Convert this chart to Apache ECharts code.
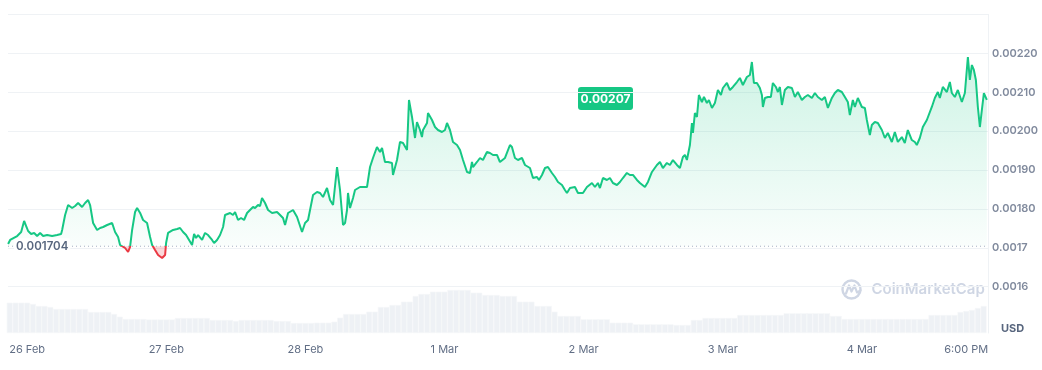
<!DOCTYPE html>
<html>
<head>
<meta charset="utf-8">
<script src="https://cdn.jsdelivr.net/npm/echarts@6.0.0/dist/echarts.min.js"></script>
<style>
html,body{margin:0;padding:0;background:#ffffff;}
#chart{width:1042px;height:370px;}
</style>
</head>
<body>
<div id="chart"></div>
<script>
// ---- DATA ----
// time in hours since 26 Feb 00:00, price in USD
const pricePoints = [
[-3.28,0.0017098],[-2.93,0.0017201],[-2.59,0.0017252],[-1.72,0.0017303],[-1.03,0.0017406],[-0.52,0.0017689],[-0.17,0.0017560],[0.17,0.0017432],[0.69,0.0017355],[1.21,0.0017381],[1.72,0.0017303],[2.24,0.0017381],[2.76,0.0017303],[3.45,0.0017329],[4.31,0.0017303],[5.17,0.0017329],[5.86,0.0017355],[6.04,0.0017458],[6.55,0.0017843],[7.07,0.0018100],[7.76,0.0018023],[8.28,0.0018075],[8.79,0.0018152],[9.48,0.0018049],[10.00,0.0018152],[10.52,0.0018229],[10.86,0.0018100],[11.38,0.0017638],[12.07,0.0017458],[12.59,0.0017509],[13.11,0.0017535],[13.80,0.0017586],[14.66,0.0017638],[15.17,0.0017406],[15.69,0.0017278],[16.03,0.0017072],[16.90,0.0016995],[17.42,0.0016892],[17.76,0.0017021],[18.11,0.0017458],[18.62,0.0017920],[18.97,0.0018023],[19.49,0.0017895],[20.00,0.0017715],[20.69,0.0017638],[21.21,0.0017278],[21.56,0.0017072],[22.07,0.0016943],[22.59,0.0016815],[23.28,0.0016738],[23.80,0.0016815],[23.97,0.0017123],[24.31,0.0017381],[25.18,0.0017458],[25.87,0.0017483],[26.38,0.0017509],
[26.90,0.0017406],[27.42,0.0017329],[27.76,0.0017278],[28.45,0.0017072],[28.80,0.0017355],[29.14,0.0017252],[29.49,0.0017329],[30.18,0.0017201],[30.69,0.0017381],[31.21,0.0017329],[31.90,0.0017201],[32.25,0.0017123],[32.76,0.0017201],[33.28,0.0017329],[33.80,0.0017535],[34.14,0.0017843],[35.01,0.0017895],[35.52,0.0017843],[35.87,0.0017920],[36.38,0.0017715],[36.90,0.0017766],[37.42,0.0017715],[37.94,0.0017895],[38.45,0.0017972],[38.97,0.0018049],[39.32,0.0018023],[39.83,0.0018100],[40.18,0.0018075],[40.52,0.0018280],[41.04,0.0018152],[41.56,0.0017972],[42.25,0.0017895],[43.11,0.0017920],[43.63,0.0017843],[44.14,0.0017766],[44.49,0.0017586],[45.01,0.0017895],[45.87,0.0017972],[46.56,0.0017792],[47.42,0.0017406],[47.94,0.0017638],[48.46,0.0017715],[49.32,0.0018357],[50.01,0.0018435],[50.53,0.0018409],[51.04,0.0018306],[51.73,0.0018537],[52.25,0.0018229],[52.77,0.0018100],[53.46,0.0019077],[53.97,0.0018486],[54.49,0.0017586],[54.84,0.0017638],[55.18,0.0017972],[55.35,0.0018409],[55.70,0.0018023],[56.22,0.0018280],[56.56,0.0018486],[57.42,0.0018563],[58.63,0.0018563],[59.15,0.0019077],[59.66,0.0019309],[60.35,0.0019591],[60.87,0.0019463],[61.22,0.0019566],[61.73,0.0019206],[62.25,0.0019206],[62.94,0.0019180],[63.11,0.0018872],[63.80,0.0019257],[64.32,0.0019720],[64.84,0.0019694],[65.53,0.0019514],[65.87,0.0020800],[66.39,0.0020363],[66.56,0.0020337],[66.91,0.0019823],[67.25,0.0020234],[67.77,0.0020028],[68.11,0.0019848],[68.29,0.0020028],[68.98,0.0020208],[69.15,0.0020465],[69.84,0.0020285],[70.36,0.0020105],[70.87,0.0020028],[71.56,0.0019977],[72.08,0.0020028],[72.43,0.0020208],[72.94,0.0020028],[73.46,0.0019720],[74.15,0.0019643],[74.67,0.0019514],[75.19,0.0019257],[75.88,0.0018949],[76.39,0.0018923],[76.74,0.0019206],[76.91,0.0019077],[77.60,0.0019206],[78.12,0.0019309],[78.63,0.0019257],[79.32,0.0019463],[79.84,0.0019437],[80.36,0.0019386],[81.05,0.0019386],[81.56,0.0019206],
[82.43,0.0019309],[83.29,0.0019643],[83.63,0.0019591],[84.15,0.0019309],[84.67,0.0019257],[85.36,0.0019309],[85.88,0.0019129],[86.74,0.0019051],[87.26,0.0018794],[87.95,0.0018820],[88.29,0.0018743],[88.81,0.0018872],[89.33,0.0019051],[89.84,0.0019077],[90.53,0.0018923],[91.05,0.0018820],[91.57,0.0018692],[92.26,0.0018614],[92.77,0.0018486],[93.12,0.0018409],[93.64,0.0018537],[94.50,0.0018563],[95.02,0.0018409],[95.88,0.0018409],[96.57,0.0018563],[97.43,0.0018666],[97.95,0.0018563],[98.46,0.0018666],[98.81,0.0018537],[99.33,0.0018794],[100.02,0.0018743],[100.53,0.0018794],[101.05,0.0018666],[101.74,0.0018614],[102.26,0.0018692],[102.77,0.0018794],[103.46,0.0018923],[103.98,0.0018872],[104.50,0.0018872],[105.19,0.0018743],[105.71,0.0018666],[106.57,0.0018563],[107.09,0.0018692],[107.78,0.0018949],[108.64,0.0019129],[109.16,0.0019206],[109.67,0.0019051],[110.36,0.0019180],[110.88,0.0019129],[111.40,0.0019257],[112.09,0.0019129],[112.61,0.0019051],[113.12,0.0019334],[113.47,0.0019386],[113.81,0.0019257],[114.33,0.0019643],[114.68,0.0020208],[114.85,0.0019951],[115.19,0.0020465],[115.54,0.0020363],[115.88,0.0020928],[116.40,0.0020748],[116.75,0.0020877],[117.26,0.0020722],[117.61,0.0020800],[118.13,0.0020594],[118.64,0.0020722],[119.16,0.0021057],[119.68,0.0020928],[120.02,0.0021108],[120.71,0.0021237],[121.23,0.0021057],[121.75,0.0021134],[122.44,0.0021262],[122.95,0.0021365],[123.47,0.0021185],[124.16,0.0021391],[124.68,0.0021442],[125.02,0.0021776],[125.37,0.0021237],[125.89,0.0021237],[126.40,0.0021108],[126.75,0.0020928],[126.92,0.0020620],[127.27,0.0020851],[127.78,0.0020877],[128.30,0.0020877],[128.64,0.0021237],[129.16,0.0021134],[129.51,0.0021005],[129.85,0.0021134],[130.20,0.0020671],[130.71,0.0021057],[131.23,0.0021134],[131.92,0.0021108],[132.44,0.0020877],[132.95,0.0021005],[133.64,0.0020800],[134.16,0.0020877],[134.68,0.0020928],[135.37,0.0020851],[135.89,0.0020979],[136.40,0.0020877],[137.09,0.0020800],[137.61,0.0020877],[138.13,0.0020594],[138.82,0.0020851],[139.33,0.0020979],[139.85,0.0021057],[140.54,0.0021005],[141.06,0.0020877],[141.57,0.0020748],[141.92,0.0020414],[142.44,0.0020800],[142.78,0.0020620],[143.30,0.0020851],[143.99,0.0020620],[144.51,0.0020594],[144.85,0.0020285],[145.37,0.0019900],[145.71,0.0020157],[146.23,0.0020234],[146.75,0.0020208],[147.44,0.0020028],[147.96,0.0019823],[148.47,0.0019951],[149.16,0.0019720],[149.68,0.0019977],[150.20,0.0019720],[150.89,0.0019848],[151.40,0.0019694],[151.92,0.0020028],[152.61,0.0019771],[153.13,0.0019720],[153.47,0.0019643],[153.99,0.0019823],[154.51,0.0020105],[155.20,0.0020285],[156.06,0.0020620],[156.58,0.0020851],[157.10,0.0021005],[157.44,0.0020851],[157.96,0.0021134],[158.65,0.0021005],[159.17,0.0021262],[159.51,0.0020979],[160.03,0.0020877],[160.55,0.0021057],[161.24,0.0020748],[161.76,0.0020979],[162.10,0.0021005],[162.28,0.0021905],[162.62,0.0021314],[162.97,0.0021699],[163.31,0.0021571],[163.66,0.0021314],[164.00,0.0020620],[164.35,0.0020105],[164.69,0.0020542],[165.04,0.0020979],[165.55,0.0020800]
];
// 24h volume (relative units), one value per hour starting at hour -3
const volumeStartHour = -3;
const volumes = [
30.3,30.3,30.3,30.3,29,27,27,26,24,24,24,24,24,24,
21,21,21,21,19,16.3,14,14,14,14,
13.5,13.5,13.5,13.5,13.5,15,15,15,15,15,15,
13,13,13,13,12,13,13,13,13,13,13,12,12,12,
10,10,10,10,10.3,10.3,10.3,11.3,15.3,19,19,19,19,
21.3,21.3,26,26,28,28,31.3,31.3,37,39,39,41.3,41.3,41.3,
43,43,43,43,40.3,40.3,38,38,38,37,37,37,
31.3,31.3,31.3,27,27,27,21.3,17,17,17,17,
13.7,13.7,13.7,13.7,13.7,10.3,10.3,10.3,10.3,
8.7,8.7,8.7,8.7,8.7,8.7,8.7,8,8,8,13,13,
15,15,15,15,15,15,18,18,18,18,18,18,18,18,
19.7,19.7,19.7,19.7,19.7,19.7,19.7,19.7,17,17,
14,14,14,14,14,14,14,14,14,14,14,14,14,14,14,
18,18,18,18,18,21,22,23,25,27
];
const xTickHours = [0,24,48,72,96,120,144,162];
const xTickLabels = ['26 Feb','27 Feb','28 Feb','1 Mar','2 Mar','3 Mar','4 Mar','6:00 PM'];
const yTickValues = [0.0016,0.0017,0.0018,0.0019,0.0020,0.0021,0.0022];
const yTickLabels = ['0.0016','0.0017','0.00180','0.00190','0.00200','0.00210','0.00220'];
const openPrice = 0.001704;
const currentPriceLabel = '0.00207';
const currencyLabel = 'USD';
const watermarkText = 'CoinMarketCap';

// ---- CHART ----
const GREEN = '#16c784', RED = '#ea3943';
const xMin = -3.3, xMax = 165.75;
const volumeData = volumes.map((v, i) => [volumeStartHour + i, v]);
const upperArea = pricePoints.map(p => [p[0], Math.max(p[1], openPrice)]);
const lowerArea = pricePoints.map(p => [p[0], Math.min(p[1], openPrice)]);

const W = 1042, H = 370;
const chart = echarts.init(document.getElementById('chart'), null, {renderer: 'canvas', width: W, height: H});
const font = 'Inter, "Noto Sans", sans-serif';
const gridColor = '#eff2f5';

function lineColorFor(baseY) {
  const f = Math.min(Math.max(baseY / H, 0), 1);
  return new echarts.graphic.LinearGradient(0, 0, 0, H, [
    {offset: 0, color: GREEN}, {offset: f, color: GREEN},
    {offset: f, color: RED}, {offset: 1, color: RED}
  ], true);
}

const openLineData = [
  {value: [xMin, openPrice], label: {show: true, position: 'right', distance: 6, formatter: String(openPrice),
    color: '#58667e', fontSize: 11.5, fontWeight: 600, fontFamily: font,
    backgroundColor: 'rgba(255,255,255,0.92)', padding: [2, 2], borderRadius: 2}},
  {value: [xMax, openPrice]}
];

const option = {
  animation: false,
  backgroundColor: '#ffffff',
  grid: [
    {left: 8, right: 54, top: 14.4, bottom: 44.4},
    {left: 8, right: 54, top: 283, bottom: 37}
  ],
  xAxis: [
    {type: 'value', gridIndex: 0, min: xMin, max: xMax,
     axisLine: {show: false}, axisTick: {show: false}, axisLabel: {show: false}, splitLine: {show: false}},
    {type: 'value', gridIndex: 1, min: xMin, max: xMax,
     axisLine: {show: false}, axisTick: {show: false}, splitLine: {show: false},
     axisLabel: {customValues: xTickHours, margin: 11, color: '#616e85', fontSize: 11, fontFamily: font,
       formatter: v => { const i = xTickHours.findIndex(t => Math.abs(t - v) < 1e-6); return i >= 0 ? xTickLabels[i] : ''; }}}
  ],
  yAxis: [
    {type: 'value', gridIndex: 0, position: 'right', min: 0.0015, max: 0.0023, interval: 0.0001,
     axisLine: {show: true, onZero: false, lineStyle: {color: gridColor, width: 1}}, axisTick: {show: false},
     splitLine: {show: true, lineStyle: {color: ['rgba(0,0,0,0)', gridColor, gridColor, gridColor, gridColor, gridColor, gridColor, gridColor, gridColor], width: 1}},
     axisLabel: {margin: 4, color: '#808a9d', fontSize: 11, fontWeight: 600, fontFamily: font,
       formatter: v => { const i = yTickValues.findIndex(t => Math.abs(t - v) < 1e-9); return i >= 0 ? yTickLabels[i] : ''; }}},
    {type: 'value', gridIndex: 1, position: 'right', min: 0, max: 50,
     axisLine: {show: true, onZero: false, lineStyle: {color: gridColor, width: 1}}, axisTick: {show: false},
     axisLabel: {show: false}, splitLine: {show: false}}
  ],
  series: [
    {type: 'bar', xAxisIndex: 1, yAxisIndex: 1, data: volumeData, barWidth: 5.8, silent: true,
     itemStyle: {color: '#eef1f5', borderColor: '#f5f6f9', borderWidth: 0.6}, z: 1},
    {type: 'line', xAxisIndex: 0, yAxisIndex: 0, data: upperArea, symbol: 'none', silent: true,
     lineStyle: {width: 0}, z: 2,
     areaStyle: {origin: openPrice, color: new echarts.graphic.LinearGradient(0, 0, 0, 1, [
       {offset: 0, color: 'rgba(22,199,132,0.30)'}, {offset: 1, color: 'rgba(22,199,132,0.03)'}])}},
    {type: 'line', xAxisIndex: 0, yAxisIndex: 0, data: lowerArea, symbol: 'none', silent: true,
     lineStyle: {width: 0}, z: 2,
     areaStyle: {origin: openPrice, color: 'rgba(234,57,67,0.28)'}},
    {type: 'line', xAxisIndex: 0, yAxisIndex: 0, data: openLineData, silent: true,
     symbol: 'circle', symbolSize: 0, showSymbol: true, clip: false,
     lineStyle: {color: '#a6b0c3', type: [1, 3], width: 1}, itemStyle: {color: 'rgba(0,0,0,0)'}, z: 3},
    {id: 'price', type: 'line', xAxisIndex: 0, yAxisIndex: 0, data: pricePoints, symbol: 'none', silent: true,
     lineStyle: {width: 2, color: GREEN}, z: 4}
  ],
  graphic: [
    {type: 'group', left: 578, top: 87, z: 10, children: [
      {type: 'rect', shape: {x: 0, y: 0, width: 55, height: 23, r: 3}, style: {fill: GREEN}},
      {type: 'text', x: 27.5, y: 12, style: {text: currentPriceLabel, fill: '#ffffff', font: 'bold 12px ' + font, textAlign: 'center', textVerticalAlign: 'middle'}}
    ]},
    {type: 'text', left: 1001, top: 323, z: 10, style: {text: currencyLabel, fill: '#58667e', font: 'bold 11px ' + font}},
    {type: 'group', left: 840, top: 278, z: 0, silent: true, children: [
      {type: 'circle', shape: {cx: 10, cy: 11, r: 9}, style: {fill: 'none', stroke: '#cfd6e4', lineWidth: 2.4}},
      {type: 'polyline', shape: {points: [[4.5, 15], [7.5, 7], [10, 13], [13, 7], [15.5, 14], [19, 12]]}, style: {fill: 'none', stroke: '#cfd6e4', lineWidth: 2.2, lineJoin: 'round', lineCap: 'round'}},
      {type: 'text', x: 30, y: 11, style: {text: watermarkText, fill: '#cfd6e4', font: '600 15px ' + font, textVerticalAlign: 'middle'}}
    ]}
  ]
};
chart.setOption(option);
// colour the price line red below the opening price, using the axis scale for the split position
const baseY = chart.convertToPixel({yAxisIndex: 0}, openPrice);
chart.setOption({series: [{id: 'price', lineStyle: {color: lineColorFor(baseY)}}]});
</script>
</body>
</html>
